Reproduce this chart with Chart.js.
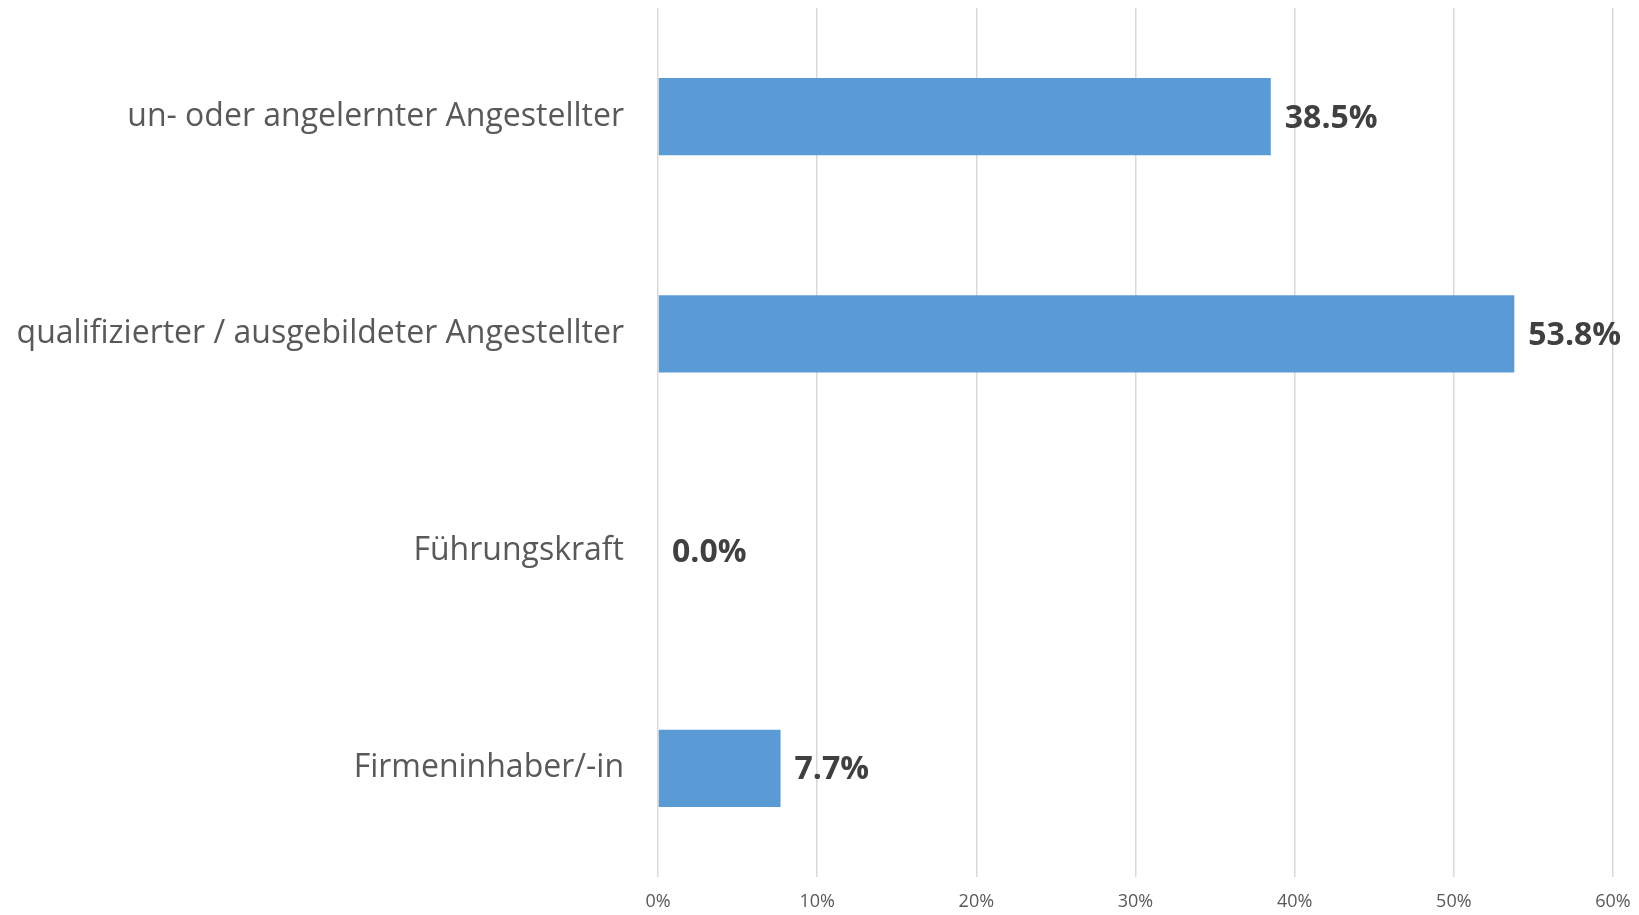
<!DOCTYPE html>
<html>
<head>
<meta charset="utf-8">
<script src="https://cdn.jsdelivr.net/npm/chart.js@4/dist/chart.umd.min.js"></script>
<style>
html,body{margin:0;padding:0;background:#fff;}
#wrap{width:1639px;height:915px;position:relative;}
</style>
</head>
<body>
<div id="wrap"><canvas id="c" width="1639" height="915"></canvas></div>
<script>
const categories = [
  "un- oder angelernter Angestellter",
  "qualifizierter / ausgebildeter Angestellter",
  "Führungskraft",
  "Firmeninhaber/-in"
];
const values = [38.5, 53.8, 0.0, 7.7];
const valueLabels = ["38.5%", "53.8%", "0.0%", "7.7%"];
const xTickMin = 0;
const xTickMax = 60;
const xTickStep = 10;

const FONT = "'Open Sans', sans-serif";

const valueLabelPlugin = {
  id: 'valueLabels',
  afterDatasetsDraw(chart) {
    const ctx = chart.ctx;
    const meta = chart.getDatasetMeta(0);
    ctx.save();
    ctx.font = "bold 32px " + FONT;
    ctx.fillStyle = "#404040";
    ctx.textAlign = "left";
    ctx.textBaseline = "middle";
    meta.data.forEach((bar, i) => {
      ctx.fillText(valueLabels[i], bar.x + 14, bar.y + 2);
    });
    ctx.restore();
  }
};

new Chart(document.getElementById('c'), {
  type: 'bar',
  data: {
    labels: categories,
    datasets: [{
      data: values,
      backgroundColor: '#5b9bd5',
      borderWidth: 0,
      categoryPercentage: 1,
      barPercentage: 0.355
    }]
  },
  options: {
    indexAxis: 'y',
    responsive: false,
    animation: false,
    layout: { padding: { left: 0, right: 26, top: 8, bottom: 0 } },
    plugins: { legend: { display: false }, tooltip: { enabled: false } },
    scales: {
      x: {
        min: xTickMin,
        max: xTickMax,
        ticks: {
          stepSize: xTickStep,
          callback: v => v + '%',
          color: '#595959',
          font: { family: FONT, size: 18 },
          padding: 14
        },
        grid: { color: '#d9d9d9', lineWidth: 1.5, drawTicks: false },
        border: { display: false },
        afterFit(s) { s.height = 38; s.paddingLeft = 0; s.paddingRight = 0; }
      },
      y: {
        ticks: {
          color: '#595959',
          font: { family: FONT, size: 32 },
          padding: 34
        },
        grid: { display: false, drawTicks: false },
        border: { display: false },
        afterFit(s) { s.width = 658; s.paddingTop = 0; s.paddingBottom = 0; }
      }
    }
  },
  plugins: [valueLabelPlugin]
});
</script>
</body>
</html>
